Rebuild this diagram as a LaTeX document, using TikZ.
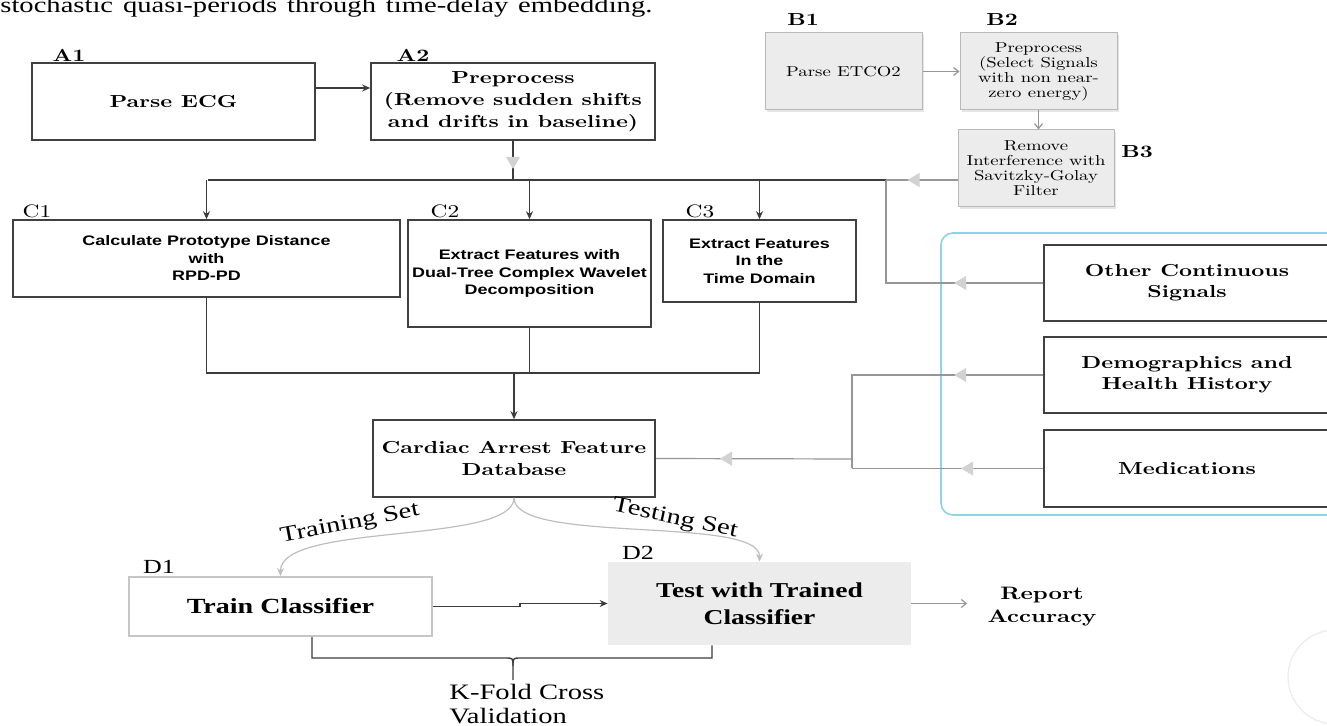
\documentclass[tikz,border=0pt]{standalone}
\usepackage{fontspec}
\newfontfamily\cent{lmroman10-regular}[Extension=.otf, BoldFont=lmroman10-bold, FakeStretch=1.3]
\newfontfamily\tms{Liberation Serif}[FakeStretch=1.3]
\newfontfamily\arl{Liberation Sans}[FakeStretch=1.3]
\usetikzlibrary{arrows.meta, positioning, calc, decorations.markings, shadows}
\definecolor{lineDark}{RGB}{60, 60, 60}
\definecolor{lineGray}{RGB}{150, 150, 150}
\definecolor{lineLight}{RGB}{190, 190, 190}
\definecolor{triGray}{RGB}{210, 210, 210}
\definecolor{boxGray}{RGB}{236, 236, 236}
\definecolor{groupBlue}{RGB}{140, 212, 232}
\tikzset{
  box/.style={draw=black!75, line width=0.8pt, fill=white, align=center, inner sep=1pt},
  etbox/.style={draw=gray!55, fill=boxGray, line width=0.5pt, align=center, inner sep=1pt,
    drop shadow={opacity=0.2, shadow xshift=0.8pt, shadow yshift=-0.8pt},
    font=\cent\fontsize{7.2}{7.5}\selectfont},
  dline/.style={draw=lineDark, line width=0.6pt},
  gline/.style={draw=lineGray, line width=0.6pt},
  ltline/.style={draw=lineLight, line width=0.6pt},
  arr/.style={-{Stealth[length=4pt, width=3.5pt]}},
  barb/.style={-{Straight Barb[length=2.5pt, width=4pt]}},
  tri/.style={postaction={decorate}, decoration={markings,
    mark=at position #1 with {\arrow{Triangle[length=6pt, width=7pt, color=triGray]}}}},
  lblb/.style={inner sep=0pt, font=\cent\bfseries\fontsize{8.7}{10}\selectfont},
  lblr/.style={inner sep=0pt, font=\cent\fontsize{9}{10}\selectfont},
}

\begin{document}
\begin{tikzpicture}[x=0.5pt, y=-0.5pt]
  \useasboundingbox (0,0) rectangle (1327,726);
  \fill[white] (0,0) rectangle (1327,726);

  % caption line at the top
  \node[anchor=base west, inner sep=0pt, font=\tms\fontsize{11}{12}\selectfont] (cap) at (0,13)
    {\makebox[326pt][s]{stochastic quasi-periods through time-delay embedding.}};

  % ECG branch
  \node[lblb] (labA1) at (69,55) {A1};
  \node[box, minimum width=141.5pt, minimum height=38.5pt, font=\cent\bfseries\fontsize{8.7}{11}\selectfont] (A1) at (173.5,101.5) {Parse ECG};
  \node[lblb] (labA2) at (413,55) {A2};
  \node[box, minimum width=142pt, minimum height=38.5pt, font=\cent\bfseries\fontsize{8.7}{11}\selectfont] (A2) at (513,101.5)
    {Preprocess\\(Remove sudden shifts\\and drifts in baseline)};

  % ETCO2 branch
  \node[lblb] (labB1) at (803,20) {B1};
  \node[etbox, minimum width=78.5pt, minimum height=38.5pt] (B1) at (843.5,71.5) {Parse ETCO2};
  \node[lblb] (labB2) at (1002,20) {B2};
  \node[etbox, minimum width=78.5pt, minimum height=38.5pt] (B2) at (1038.5,71.5)
    {Preprocess\\(Select Signals\\with non near-\\zero energy)};
  \node[etbox, minimum width=78pt, minimum height=38.5pt] (B3) at (1036,168.5)
    {Remove\\Interference with\\Savitzky-Golay\\Filter};
  \node[lblb] (labB3) at (1137,152) {B3};

  % feature extraction
  \node[lblr] (labC1) at (37,211) {C1};
  \node[box, minimum width=193.5pt, minimum height=38.5pt, font=\arl\bfseries\fontsize{6.9}{8.75}\selectfont] (C1) at (206.5,258.5)
    {Calculate Prototype Distance\\with\\RPD-PD};
  \node[lblr] (labC2) at (445,211) {C2};
  \node[box, minimum width=121.5pt, minimum height=53.5pt, font=\arl\bfseries\fontsize{6.9}{8.75}\selectfont] (C2) at (529.5,273.5)
    {Extract Features with\\Dual-Tree Complex Wavelet\\Decomposition};
  \node[lblr] (labC3) at (700,211) {C3};
  \node[box, minimum width=96.5pt, minimum height=41pt, font=\arl\bfseries\fontsize{6.9}{8.75}\selectfont] (C3) at (759.5,261)
    {Extract Features\\In the\\Time Domain};

  \node[box, minimum width=141pt, minimum height=38.5pt, font=\cent\bfseries\fontsize{8.7}{11}\selectfont] (DB) at (514,458.5)
    {Cardiac Arrest Feature\\Database};

  % other data sources
  \draw[groupBlue, line width=0.8pt, rounded corners=6pt] (941,233) rectangle (1345,515);
  \node[box, minimum width=143pt, minimum height=38pt, font=\cent\bfseries\fontsize{8.7}{10.5}\selectfont] (Oth) at (1187,283)
    {Other Continuous\\Signals};
  \node[box, minimum width=143pt, minimum height=38pt, font=\cent\bfseries\fontsize{8.7}{10.5}\selectfont] (Dem) at (1187,375)
    {Demographics and\\Health History};
  \node[box, minimum width=143pt, minimum height=38.5pt, font=\cent\bfseries\fontsize{8.7}{10.5}\selectfont] (Med) at (1187,468.5)
    {Medications};

  % classification
  \node[font=\tms\fontsize{10}{11}\selectfont, inner sep=0pt] (labD1) at (159,567) {D1};
  \node[draw=gray!45, line width=1pt, fill=white, minimum width=151.5pt, minimum height=29.5pt, font=\tms\bfseries\fontsize{10.8}{13}\selectfont] (D1) at (280.5,606.5)
    {Train Classifier};
  \node[font=\tms\fontsize{10}{11}\selectfont, inner sep=0pt] (labD2) at (638,553) {D2};
  \node[fill=boxGray, minimum width=151.5pt, minimum height=41.5pt, align=center, font=\tms\bfseries\fontsize{10.6}{13.5}\selectfont] (D2) at (759.5,603.5)
    {Test with Trained\\Classifier};
  \node[align=center, inner sep=3pt, font=\cent\bfseries\fontsize{9}{11.5}\selectfont] (RA) at (1042,607) {Report\\Accuracy};

  % connectors
  \coordinate (busL) at (208,180);
  \coordinate (busR) at (886,180);
  \coordinate (mrg) at (513,373);
  \coordinate (jnT) at (852,375);
  \coordinate (jnB) at (852,468);
  \coordinate (jnM) at (852,459);

  \draw[dline, arr] ([yshift=6.75pt]A1.east) -- ([yshift=6.75pt]A2.west);
  \draw[dline, tri=14pt] (A2.south) -- (A2.south |- busL);
  \draw[dline] (busL) -- (busR);
  \draw[gline, tri=25pt] ([yshift=-5.75pt]B3.west) -- (busR);
  \draw[dline, arr] (C1.north |- busL) -- (C1.north);
  \draw[dline, arr] (C2.north |- busL) -- (C2.north);
  \draw[dline, arr] (C3.north |- busL) -- (C3.north);
  \draw[gline, barb] (B1) -- (B2);
  \draw[gline, barb] (B2.south) -- (B2.south |- B3.north);
  \draw[gline, tri=44.5pt] (Oth.west) -| (busR);

  \draw[dline] (C1.south) |- (C3.south |- mrg) -- (C3.south);
  \draw[dline] (C2.south) -- (C2.south |- mrg);
  \draw[dline, arr] (DB.north |- mrg) -- (DB.north);

  \draw[gline, tri=44.5pt] (Dem.west) -- (Dem.west -| jnT) -- (jnB);
  \draw[gline, tri=41pt] (Med.west) -- (Med.west -| jnB);
  \draw[gline, tri=66pt] (jnM) -- (DB.east);

  \draw[ltline, arr] (DB.south) .. controls (514,545) and (280,522) .. (D1.north);
  \draw[ltline, arr] (DB.south) .. controls (514,545) and (760,515) .. (D2.north);
  \node[rotate=11, font=\tms\fontsize{11}{12}\selectfont] (trainLbl) at (350,524) {Training Set};
  \node[rotate=-12, font=\tms\fontsize{11}{12}\selectfont] (testLbl) at (675,519) {Testing Set};

  \draw[dline, arr] (D1.east) -- ++(43.5pt,0) |- (D2.west);
  \draw[gline, barb, shorten >=7pt] (D2.east) -- (D2.east -| RA.west);

  % k-fold brace
  \coordinate (brL) at (312,658);
  \coordinate (brR) at (712,658);
  \coordinate (kfTip) at (513,680);
  \draw[dline, line width=0.7pt] (D1.south -| brL) -- (brL) -- (505,658) .. controls (513,658) .. (513,666) -- (kfTip);
  \draw[dline, line width=0.7pt] (D2.south -| brR) -- (brR) -- (521,658) .. controls (513,658) .. (513,666);
  \node[anchor=north west, align=left, inner sep=0pt, font=\tms\fontsize{11}{12}\selectfont] (KF) at (449,684)
    {K-Fold Cross\\Validation};

  \draw[gray!15, line width=0.6pt] (1335,677) circle (23.5pt);
\end{tikzpicture}
\end{document}
